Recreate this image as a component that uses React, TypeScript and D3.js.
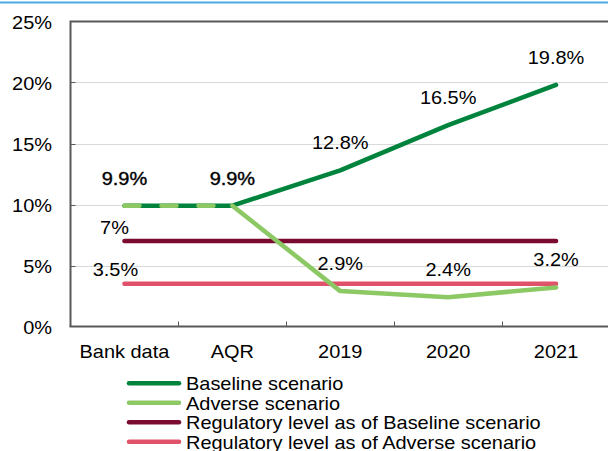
import React from "react";
import * as d3 from "d3";

const categories = ["Bank data", "AQR", "2019", "2020", "2021"];
const baseline = [9.9, 9.9, 12.8, 16.5, 19.8];
const adverse = [9.9, 9.9, 2.9, 2.4, 3.2];
const regBaseline = [7, 7, 7, 7, 7];
const regAdverse = [3.5, 3.5, 3.5, 3.5, 3.5];
const yTicks = [0, 5, 10, 15, 20, 25];
const legendLabels = [
  "Baseline scenario",
  "Adverse scenario",
  "Regulatory level as of Baseline scenario",
  "Regulatory level as of Adverse scenario",
];

const W = 608;
const H = 451;
const left = 70.5;
const right = 610;
const top = 21.5;
const bottom = 326.5;

const C_BASE = "#00843D";
const C_ADV = "#8CC864";
const C_REGB = "#7A0A30";
const C_REGA = "#E0526A";
const FONT = "'Liberation Sans', Arial, sans-serif";
const SX = 1.05;

function T(props: {
  x: number;
  y: number;
  anchor?: "start" | "middle" | "end";
  bold?: boolean;
  children: React.ReactNode;
}) {
  return (
    <text
      transform={`translate(${props.x},${props.y}) scale(${SX},1)`}
      textAnchor={props.anchor || "start"}
      fontSize={19}
      fill="#000"
      stroke={props.bold ? "#000" : "none"}
      strokeWidth={props.bold ? 0.4 : 0}
    >
      {props.children}
    </text>
  );
}

export default function App() {
  const x = d3.scaleBand<string>().domain(categories).range([left, right]);
  const cx = (i: number) => (x(categories[i]) as number) + x.bandwidth() / 2;
  const y = d3.scaleLinear().domain([0, 25]).range([bottom, top]);
  const line = d3
    .line<number>()
    .x((_, i) => cx(i))
    .y((d) => y(d));

  const advFirst = d3
    .line<number>()
    .x((_, i) => cx(i))
    .y((d) => y(d))(adverse.slice(0, 2));
  const advRest = d3
    .line<number>()
    .x((_, i) => cx(i + 1))
    .y((d) => y(d))(adverse.slice(1));

  const colors = [C_BASE, C_ADV, C_REGB, C_REGA];

  return (
    <svg width={W} height={H} style={{ position: "absolute", left: 0, top: 0 }} fontFamily={FONT}>
      <rect x={0} y={0} width={W} height={H} fill="#fff" />
      <line x1={0} x2={W} y1={2.5} y2={2.5} stroke="#4AACE0" strokeWidth={2} />
      {yTicks.map((t) => (
        <g key={t}>
          {t > 0 && t < 25 && (
            <line x1={left} x2={right} y1={Math.round(y(t)) + 0.5} y2={Math.round(y(t)) + 0.5} stroke="#D9D9D9" strokeWidth={1} />
          )}
          {t > 0 && t < 25 && (
            <line x1={left} x2={left + 5} y1={Math.round(y(t)) + 0.5} y2={Math.round(y(t)) + 0.5} stroke="#595959" strokeWidth={1} />
          )}
          <T x={52} y={y(t) + 7} anchor="end">
            {t}%
          </T>
        </g>
      ))}
      <path d={`M${left},${bottom}V${top}H${right}`} fill="none" stroke="#595959" strokeWidth={2} />
      <line x1={left - 1} x2={right} y1={bottom} y2={bottom} stroke="#595959" strokeWidth={2} />
      {categories.slice(1).map((c) => (
        <line
          key={c}
          x1={Math.round(x(c) as number) + 0.5}
          x2={Math.round(x(c) as number) + 0.5}
          y1={bottom}
          y2={bottom - 5}
          stroke="#595959"
          strokeWidth={1}
        />
      ))}
      {categories.map((c, i) => (
        <T key={c} x={cx(i)} y={358} anchor="middle">
          {c}
        </T>
      ))}

      <path d={line(regBaseline) as string} fill="none" stroke={C_REGB} strokeWidth={4.5} strokeLinecap="round" />
      <path d={line(regAdverse) as string} fill="none" stroke={C_REGA} strokeWidth={4.5} strokeLinecap="round" />
      <path d={line(baseline) as string} fill="none" stroke={C_BASE} strokeWidth={4.5} strokeLinecap="round" strokeLinejoin="round" />
      <path d={advRest as string} fill="none" stroke={C_ADV} strokeWidth={4.5} strokeLinecap="round" strokeLinejoin="round" />
      <path d={advFirst as string} fill="none" stroke={C_ADV} strokeWidth={4.5} strokeLinecap="round" strokeDasharray="15 22" />

      {baseline.map((v, i) => (
        <T key={"b" + i} x={cx(i)} y={y(v) - 21} anchor="middle" bold={i < 2}>
          {v.toFixed(1)}%
        </T>
      ))}
      {adverse.map((v, i) =>
        i < 2 ? null : (
          <T key={"a" + i} x={cx(i)} y={y(v) - 21} anchor="middle">
            {v.toFixed(1)}%
          </T>
        )
      )}
      <T x={cx(0) - 10} y={y(regBaseline[0]) - 7} anchor="middle">
        {regBaseline[0]}%
      </T>
      <T x={cx(0) - 9} y={y(regAdverse[0]) - 8} anchor="middle">
        {regAdverse[0]}%
      </T>

      {legendLabels.map((l, i) => {
        const ly = 383.3 + i * 19.5;
        return (
          <g key={l}>
            <line x1={129} x2={179} y1={ly} y2={ly} stroke={colors[i]} strokeWidth={4.5} strokeLinecap="round" />
            <T x={186} y={ly + 7}>
              {l}
            </T>
          </g>
        );
      })}
    </svg>
  );
}
